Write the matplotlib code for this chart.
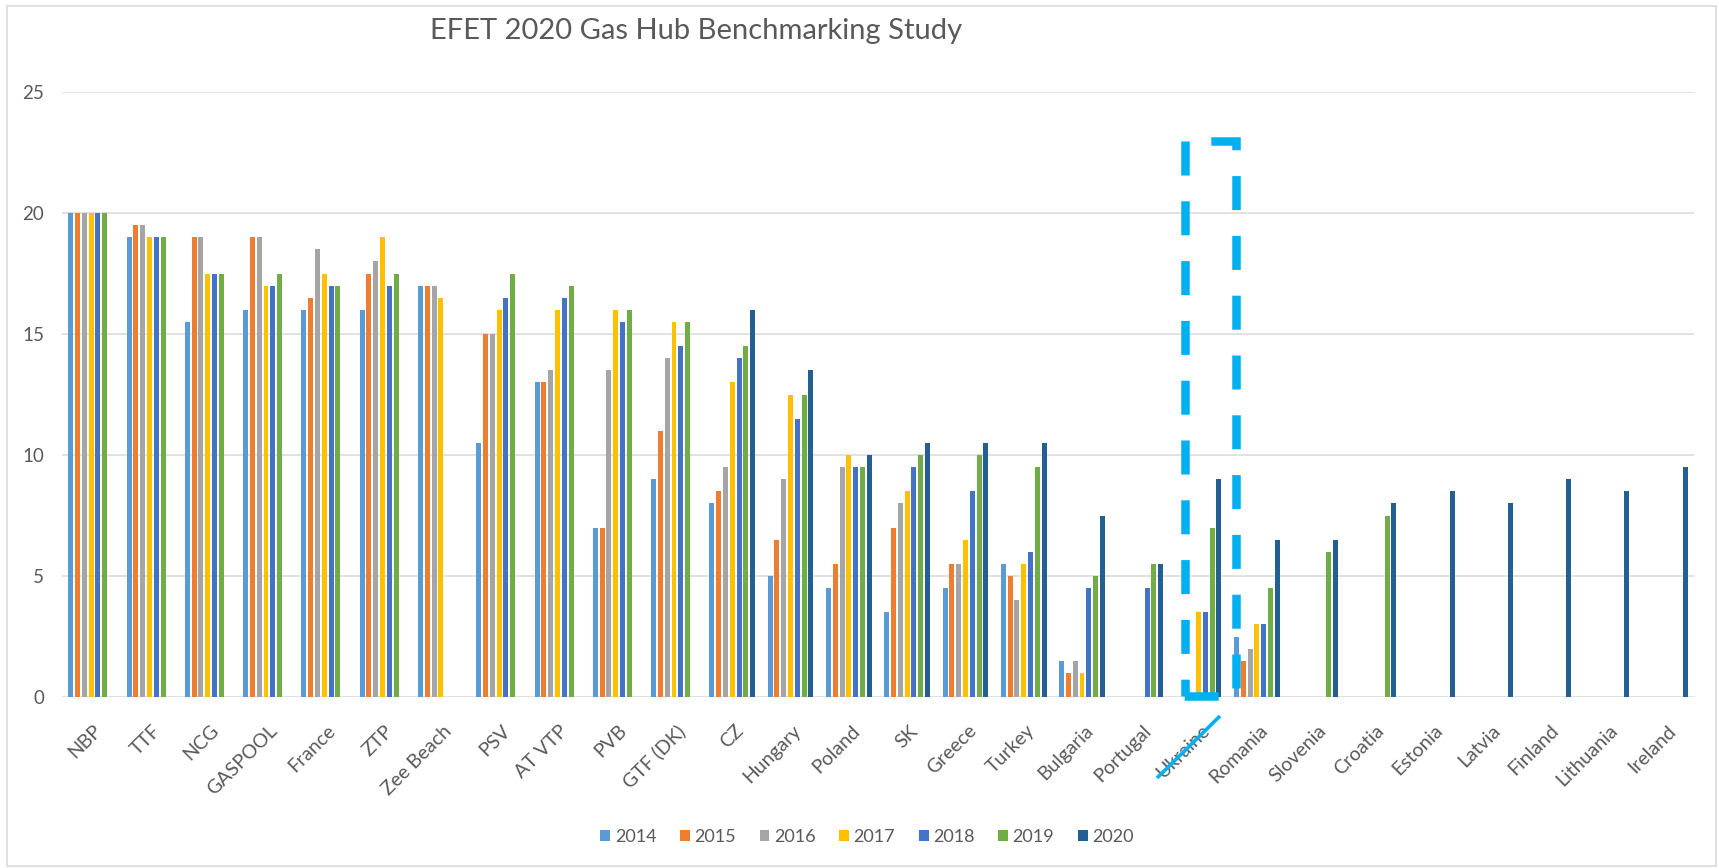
import numpy as np
import matplotlib
matplotlib.use("Agg")
import matplotlib.pyplot as plt
from matplotlib.lines import Line2D
from matplotlib.patches import Rectangle
from matplotlib import transforms

plt.rcParams['font.family'] = ['Lato', 'DejaVu Sans']

categories = ["NBP", "TTF", "NCG", "GASPOOL", "France", "ZTP", "Zee Beach", "PSV",
              "AT VTP", "PVB", "GTF (DK)", "CZ", "Hungary", "Poland", "SK", "Greece",
              "Turkey", "Bulgaria", "Portugal", "Ukraine", "Romania", "Slovenia",
              "Croatia", "Estonia", "Latvia", "Finland", "Lithuania", "Ireland"]
N = None
s2014 = [20, 19, 15.5, 16, 16, 16, 17, 10.5, 13, 7, 9, 8, 5, 4.5, 3.5, 4.5, 5.5, 1.5,
         N, N, 2.5, N, N, N, N, N, N, N]
s2015 = [20, 19.5, 19, 19, 16.5, 17.5, 17, 15, 13, 7, 11, 8.5, 6.5, 5.5, 7, 5.5, 5, 1,
         N, N, 1.5, N, N, N, N, N, N, N]
s2016 = [20, 19.5, 19, 19, 18.5, 18, 17, 15, 13.5, 13.5, 14, 9.5, 9, 9.5, 8, 5.5, 4, 1.5,
         N, N, 2, N, N, N, N, N, N, N]
s2017 = [20, 19, 17.5, 17, 17.5, 19, 16.5, 16, 16, 16, 15.5, 13, 12.5, 10, 8.5, 6.5, 5.5, 1,
         N, 3.5, 3, N, N, N, N, N, N, N]
s2018 = [20, 19, 17.5, 17, 17, 17, N, 16.5, 16.5, 15.5, 14.5, 14, 11.5, 9.5, 9.5, 8.5, 6, 4.5,
         4.5, 3.5, 3, N, N, N, N, N, N, N]
s2019 = [20, 19, 17.5, 17.5, 17, 17.5, N, 17.5, 17, 16, 15.5, 14.5, 12.5, 9.5, 10, 10, 9.5, 5,
         5.5, 7, 4.5, 6, 7.5, N, N, N, N, N]
s2020 = [N, N, N, N, N, N, N, N, N, N, N, 16, 13.5, 10, 10.5, 10.5, 10.5, 7.5,
         5.5, 9, 6.5, 6.5, 8, 8.5, 8, 9, 8.5, 9.5]
years = ["2014", "2015", "2016", "2017", "2018", "2019", "2020"]
series = [s2014, s2015, s2016, s2017, s2018, s2019, s2020]
colors = ["#5B9BD5", "#ED7D31", "#A5A5A5", "#FFC000", "#4472C4", "#70AD47", "#255E91"]
title = "EFET 2020 Gas Hub Benchmarking Study"

W, H = 1719, 868
fig = plt.figure(figsize=(W / 100, H / 100), dpi=100)
ax = fig.add_axes([62 / W, 1 - 697 / H, (1694 - 62) / W, (697 - 92) / H])

txt = "#595959"
grid = "#D9D9D9"
slot = 6.8 / 58.3
bw = 5.0 / 58.3
x = np.arange(len(categories))
for j, (yr, vals, c) in enumerate(zip(years, series, colors)):
    xs = [xi + (j - 3) * slot for xi, v in zip(x, vals) if v is not None]
    vs = [v for v in vals if v is not None]
    ax.bar(xs, vs, width=bw, color=c, label=yr, zorder=3, linewidth=0)

ax.set_xlim(-0.5, len(categories) - 0.5)
ax.set_ylim(0, 25)
ax.set_yticks([0, 5, 10, 15, 20, 25])
for v in [0, 5, 10, 15, 20, 25]:
    ax.axhline(v, color=grid, lw=1.1, zorder=1)
for s in ax.spines.values():
    s.set_visible(False)
ax.tick_params(axis='y', length=0, pad=13, labelsize=13.5, labelcolor=txt)
ax.set_xticks([])

trans = transforms.blended_transform_factory(ax.transData, ax.transAxes) + \
    transforms.ScaledTranslation(8 / 100, -31 / 100, fig.dpi_scale_trans)
for xi, lab in zip(x, categories):
    ax.text(xi, 0, lab, transform=trans, rotation=45, rotation_mode='anchor',
            ha='right', va='center', fontsize=14, color=txt)

fig.text(696 / W, 1 - 31 / H, title, ha='center', va='center', fontsize=21,
         color=txt, fontweight='normal')

leg = fig.legend(loc='center', bbox_to_anchor=(867 / W, 1 - 837 / H), ncol=7,
                 frameon=False, fontsize=13, handlelength=0.55, handleheight=0.55,
                 handletextpad=0.25, columnspacing=1.3)
for t in leg.get_texts():
    t.set_color(txt)

# chart border
fig.add_artist(Rectangle((7 / W, 1 - 866 / H), (1716 - 7) / W, (866 - 6) / H,
                         transform=fig.transFigure, fill=False, edgecolor=grid, lw=1.2))

# highlight annotation (dashed box + stroke)
def fx(px):
    return px / W

def fy(py):
    return 1 - py / H

blue = "#00B0F0"
lw_px = 8.5
lw = lw_px * 0.72
ls_a = (34 / lw_px, (34 / lw_px, 25.8 / lw_px))
ls_b = (0, (34 / lw_px, 25.8 / lw_px))
fig.add_artist(Line2D([fx(1185), fx(1236), fx(1236), fx(1181)],
                      [fy(141), fy(141), fy(696), fy(696)],
                      transform=fig.transFigure, color=blue, lw=lw, linestyle=ls_a,
                      dash_capstyle='butt', solid_joinstyle='miter',
                      dash_joinstyle='miter'))
fig.add_artist(Line2D([fx(1185), fx(1185)], [fy(141), fy(696)],
                      transform=fig.transFigure, color=blue, lw=lw, linestyle=ls_b,
                      dash_capstyle='butt'))
fig.add_artist(Line2D([fx(1157), fx(1220)], [fy(778), fy(716)],
                      transform=fig.transFigure, color=blue, lw=2.6,
                      solid_capstyle='butt'))

fig.savefig("out.png", dpi=100, facecolor="white")
